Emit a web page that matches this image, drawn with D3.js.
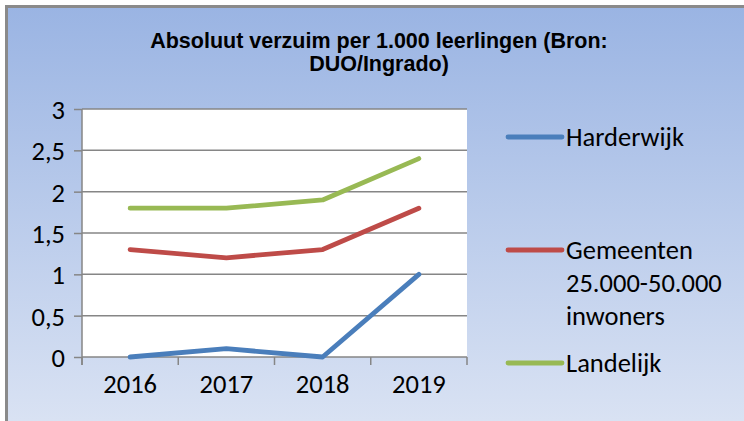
<!DOCTYPE html>
<html>
<head>
<meta charset="utf-8">
<script src="https://cdn.jsdelivr.net/npm/d3@7"></script>
<style>
  html, body { margin: 0; padding: 0; background: #fff; }
  svg { display: block; }
</style>
</head>
<body>
<svg id="chart" width="744" height="421"></svg>
<script>
// data
var years = ["2016", "2017", "2018", "2019"]
var harderwijk = [0, 0.1, 0, 1]
var gemeenten = [1.3, 1.2, 1.3, 1.8]
var landelijk = [1.8, 1.8, 1.9, 2.4]
var yTicks = [0, 0.5, 1, 1.5, 2, 2.5, 3]
var legendLines = [["Harderwijk"], ["Gemeenten", "25.000-50.000", "inwoners"], ["Landelijk"]]
var colors = ["#4a7ebb", "#be4b48", "#98b954"]

var font = "Carlito, Lato, 'Noto Sans', sans-serif"
var fontSize = 26.5
var svg = d3.select("#chart")

var defs = svg.append("defs")
var grad = defs.append("linearGradient")
    .attr("id", "bg")
    .attr("x1", 0).attr("y1", 0).attr("x2", 0).attr("y2", 1)
grad.append("stop").attr("offset", "0%").attr("stop-color", "#9ab4e3")
grad.append("stop").attr("offset", "100%").attr("stop-color", "#dde5f4")

// chart frame (runs past the right and bottom edge)
svg.append("rect")
    .attr("x", 6.5).attr("y", 6.5)
    .attr("width", 800).attr("height", 440)
    .attr("fill", "url(#bg)")
    .attr("stroke", "#8a8a8a")
    .attr("stroke-width", 3)

// title
var title = svg.append("text")
    .attr("text-anchor", "middle")
    .attr("font-family", "'Liberation Sans', Arial, sans-serif")
    .attr("font-weight", "bold")
    .attr("font-size", 21.5)
    .attr("fill", "#000")
title.append("tspan").attr("x", 379).attr("y", 48).text("Absoluut verzuim per 1.000 leerlingen (Bron:")
title.append("tspan").attr("x", 379).attr("y", 71).text("DUO/Ingrado)")

var margin = {left: 82, right: 467, top: 109, bottom: 357}

var x = d3.scaleBand()
    .domain(years)
    .range([margin.left, margin.right])
var y = d3.scaleLinear()
    .domain([0, 3])
    .range([margin.bottom, margin.top])

// plot area
svg.append("rect")
    .attr("x", margin.left).attr("y", margin.top)
    .attr("width", margin.right - margin.left)
    .attr("height", margin.bottom - margin.top)
    .attr("fill", "#fff")

// y axis ticks + labels
var yAxis = svg.append("g")
    .attr("transform", `translate(${margin.left},0)`)
    .call(d3.axisLeft(y).tickValues(yTicks).tickSize(8).tickPadding(9)
        .tickFormat(d => String(d).replace(".", ",")))
yAxis.select(".domain").remove()
yAxis.selectAll(".tick line").attr("stroke", "#868686").attr("stroke-width", 1.5)
yAxis.selectAll(".tick text")
    .attr("font-family", font)
    .attr("font-size", fontSize)
    .attr("fill", "#000")
    .attr("dy", "0.36em")

// gridlines
svg.append("g")
    .selectAll("line")
    .data(yTicks)
    .join("line")
    .attr("x1", margin.left).attr("x2", margin.right)
    .attr("y1", d => y(d)).attr("y2", d => y(d))
    .attr("stroke", "#868686")
    .attr("stroke-width", 1.5)

// vertical axis line
svg.append("line")
    .attr("x1", margin.left).attr("x2", margin.left)
    .attr("y1", margin.top).attr("y2", margin.bottom + 8)
    .attr("stroke", "#868686").attr("stroke-width", 1.5)

// x axis: labels at band centres, ticks at band edges
var xAxis = svg.append("g")
    .attr("transform", `translate(0,${margin.bottom})`)
    .call(d3.axisBottom(x).tickSize(0).tickPadding(17))
xAxis.select(".domain").remove()
xAxis.selectAll(".tick text")
    .attr("font-family", font)
    .attr("font-size", fontSize)
    .attr("fill", "#000")
    .attr("dy", "0.71em")

var edges = years.map(d => x(d)).concat([x.range()[1]])
svg.append("g")
    .selectAll("line")
    .data(edges)
    .join("line")
    .attr("x1", d => d).attr("x2", d => d)
    .attr("y1", margin.bottom).attr("y2", margin.bottom + 8)
    .attr("stroke", "#868686").attr("stroke-width", 1.5)

// lines
var line = d3.line()
    .x((d, i) => x(years[i]) + x.bandwidth() / 2)
    .y(d => y(d))

var allSeries = [harderwijk, gemeenten, landelijk]
svg.append("g")
    .selectAll("path")
    .data(allSeries)
    .join("path")
    .attr("d", d => line(d))
    .attr("fill", "none")
    .attr("stroke", (d, i) => colors[i])
    .attr("stroke-width", 4.8)
    .attr("stroke-linecap", "round")
    .attr("stroke-linejoin", "round")

// legend
var legendY = [137, 250, 363]
var lg = svg.append("g")
    .selectAll("g")
    .data(legendLines)
    .join("g")
    .attr("transform", (d, i) => `translate(508,${legendY[i]})`)
lg.append("line")
    .attr("x1", 0).attr("x2", 54)
    .attr("stroke", (d, i) => colors[i])
    .attr("stroke-width", 4.8)
    .attr("stroke-linecap", "round")
lg.append("text")
    .attr("font-family", font)
    .attr("font-size", fontSize)
    .attr("fill", "#000")
    .selectAll("tspan")
    .data(d => d)
    .join("tspan")
    .attr("x", 58)
    .attr("y", (d, i) => i * 33)
    .attr("dy", "0.35em")
    .text(d => d)
</script>
</body>
</html>
